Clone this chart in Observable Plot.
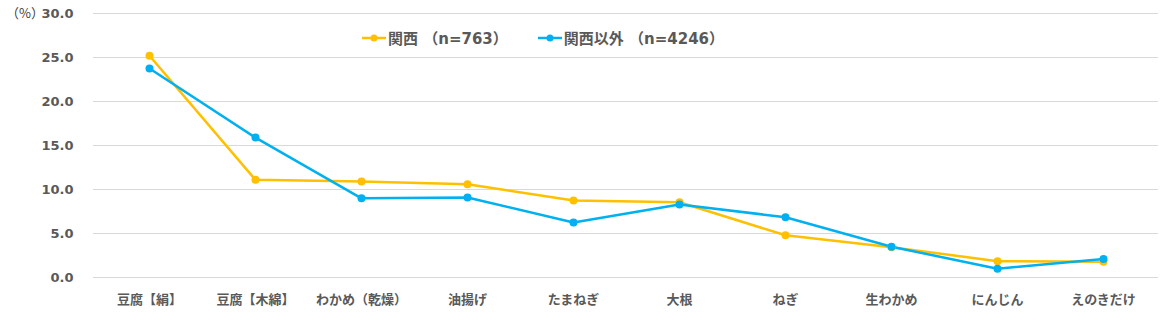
<!DOCTYPE html>
<html><head><meta charset="utf-8">
<script src="https://cdn.jsdelivr.net/npm/d3@7"></script>
<script src="https://cdn.jsdelivr.net/npm/@observablehq/plot@0.6"></script>
<style>
body{margin:0;background:#fff;}
#wrap{position:relative;width:1166px;height:318px;font-family:"DejaVu Sans","Noto Sans CJK JP",sans-serif;color:#595959;}
#unit{position:absolute;left:6px;top:3px;font-size:13px;font-family:"Noto Sans CJK JP",sans-serif;color:#404040;}
#legend{position:absolute;left:362px;top:27px;display:flex;gap:30px;font-size:15px;font-weight:bold;font-family:"DejaVu Sans","Noto Sans CJK JP",sans-serif;color:#595959;}
.item{display:flex;align-items:center;gap:2px;}
</style></head>
<body><div id="wrap"><div id="unit">（%）</div><div id="legend"></div></div>
<script>
const categories = ["豆腐【絹】","豆腐【木綿】","わかめ（乾燥）","油揚げ","たまねぎ","大根","ねぎ","生わかめ","にんじん","えのきだけ"];
const kansai = [25.2, 11.1, 10.9, 10.6, 8.75, 8.55, 4.8, 3.45, 1.85, 1.8];
const other = [23.75, 15.9, 9.0, 9.1, 6.25, 8.3, 6.85, 3.5, 1.0, 2.1];
const seriesNames = ["関西 （n=763）", "関西以外 （n=4246）"];
const colors = ["#FFC000", "#00B0F0"];
const yTicks = [0, 5, 10, 15, 20, 25, 30];

const rows = [];
categories.forEach((c, i) => {
  rows.push({cat: c, v: kansai[i], s: seriesNames[0]});
});
categories.forEach((c, i) => {
  rows.push({cat: c, v: other[i], s: seriesNames[1]});
});

const chart = Plot.plot({
  width: 1166, height: 318,
  marginLeft: 93, marginRight: 8, marginTop: 13, marginBottom: 41,
  style: {fontFamily: '"DejaVu Sans","Noto Sans CJK JP",sans-serif', color: "#595959", background: "#fff"},
  x: {type: "point", domain: categories, padding: 0.5, label: null},
  y: {domain: [0, 30], ticks: yTicks, label: null},
  color: {domain: seriesNames, range: colors},
  marks: [
    Plot.gridY(yTicks, {stroke: "#d9d9d9", strokeOpacity: 1, strokeWidth: 1}),
    Plot.axisY(yTicks, {tickSize: 0, tickPadding: 20, tickFormat: d => d.toFixed(1), fontSize: 13, fontWeight: "bold", fill: "#595959", label: null}),
    Plot.axisX({tickSize: 0, tickPadding: 17, fontSize: 13, fontWeight: "bold", fill: "#595959", fontFamily: '"Noto Sans CJK JP",sans-serif', label: null}),
    Plot.lineY(rows, {x: "cat", y: "v", z: "s", stroke: "s", strokeWidth: 2.5}),
    Plot.dot(rows, {x: "cat", y: "v", fill: "s", r: 4, stroke: "none"})
  ]
});
document.getElementById("wrap").appendChild(chart);

const leg = document.getElementById("legend");
seriesNames.forEach((n, i) => {
  const it = document.createElement("div");
  it.className = "item";
  it.innerHTML = `<svg width="24" height="10"><line x1="0" y1="5" x2="24" y2="5" stroke="${colors[i]}" stroke-width="2.5"/><circle cx="12" cy="5" r="3.5" fill="${colors[i]}"/></svg><span></span>`;
  it.querySelector("span").textContent = n;
  leg.appendChild(it);
});
</script></body></html>
